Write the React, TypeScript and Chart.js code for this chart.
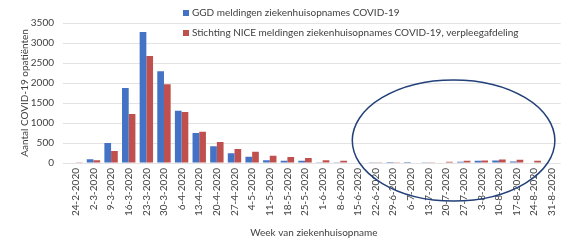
import React, { useEffect, useRef } from "react";
import { Chart, registerables } from "chart.js";

Chart.register(...registerables);

const weeks = [
  "24-2-2020", "2-3-2020", "9-3-2020", "16-3-2020", "23-3-2020", "30-3-2020", "6-4-2020",
  "13-4-2020", "20-4-2020", "27-4-2020", "4-5-2020", "11-5-2020", "18-5-2020", "25-5-2020",
  "1-6-2020", "8-6-2020", "15-6-2020", "22-6-2020", "29-6-2020", "6-7-2020", "13-7-2020",
  "20-7-2020", "27-7-2020", "3-8-2020", "10-8-2020", "17-8-2020", "24-8-2020", "31-8-2020",
];

const ggdValues = [
  15, 92, 500, 1875, 3275, 2292, 1308, 750, 417, 242, 158, 67, 58, 58,
  17, 17, 10, 5, 3, 3, 5, 10, 30, 55, 65, 35, 15, 0,
];

const niceValues = [
  5, 67, 300, 1225, 2675, 1967, 1275, 783, 525, 350, 283, 183, 150, 125,
  67, 58, 10, 20, 20, 15, 20, 30, 55, 65, 90, 80, 55, 0,
];

const seriesLabels = [
  "GGD meldingen ziekenhuisopnames COVID-19",
  "Stichting NICE meldingen ziekenhuisopnames COVID-19, verpleegafdeling",
];

const yTicks = [0, 500, 1000, 1500, 2000, 2500, 3000, 3500];

// highlighted region (in category index / value units)
const highlightFromIndex = 15.68;
const highlightToIndex = 27.17;
const highlightFromValue = -950;
const highlightToValue = 2075;

const BLUE = "#4472C4";
const RED = "#C0504D";
const FONT = "Lato, 'Open Sans', sans-serif";

const legendPlugin = {
  id: "customLegend",
  afterDraw(chart: any) {
    const ctx = chart.ctx;
    const colors = [BLUE, RED];
    ctx.save();
    ctx.font = `10px ${FONT}`;
    ctx.textBaseline = "middle";
    ctx.textAlign = "left";
    seriesLabels.forEach((label, i) => {
      const y = 13 + i * 20;
      ctx.fillStyle = colors[i];
      ctx.fillRect(183, y - 3, 6, 6);
      ctx.fillStyle = "#404040";
      ctx.fillText(label, 192, y);
    });
    ctx.restore();
  },
};

const ellipsePlugin = {
  id: "highlightEllipse",
  afterDraw(chart: any) {
    const xs = chart.scales.x;
    const ys = chart.scales.y;
    const x1 = xs.getPixelForValue(highlightFromIndex);
    const x2 = xs.getPixelForValue(highlightToIndex);
    const y1 = ys.getPixelForValue(highlightToValue);
    const y2 = ys.getPixelForValue(highlightFromValue);
    const ctx = chart.ctx;
    ctx.save();
    ctx.beginPath();
    ctx.ellipse((x1 + x2) / 2, (y1 + y2) / 2, (x2 - x1) / 2, (y2 - y1) / 2, 0, 0, Math.PI * 2);
    ctx.strokeStyle = "#22407A";
    ctx.lineWidth = 1.5;
    ctx.stroke();
    ctx.restore();
  },
};

export default function App() {
  const canvasRef = useRef<HTMLCanvasElement | null>(null);

  useEffect(() => {
    if (!canvasRef.current) return;
    const chart = new Chart(canvasRef.current, {
      type: "bar",
      data: {
        labels: weeks,
        datasets: [
          {
            label: seriesLabels[0],
            data: ggdValues,
            backgroundColor: BLUE,
            categoryPercentage: 0.76,
            barPercentage: 1,
          },
          {
            label: seriesLabels[1],
            data: niceValues,
            backgroundColor: RED,
            categoryPercentage: 0.76,
            barPercentage: 1,
          },
        ],
      },
      options: {
        animation: false,
        responsive: true,
        maintainAspectRatio: false,
        layout: { padding: { left: 15, right: 7, top: 23, bottom: 0 } },
        plugins: {
          legend: { display: false },
          tooltip: { enabled: false },
        },
        scales: {
          x: {
            grid: { display: false, drawTicks: false },
            border: { display: false },
            ticks: {
              autoSkip: false,
              minRotation: 90,
              maxRotation: 90,
              padding: 5,
              color: "#404040",
              font: { family: FONT, size: 10 },
            },
            title: {
              display: true,
              text: "Week van ziekenhuisopname",
              color: "#404040",
              font: { family: FONT, size: 10 },
              padding: { top: 0, bottom: 2 },
            },
            afterFit: (s: any) => {
              s.height = 78;
            },
          },
          y: {
            min: 0,
            max: 3500,
            afterBuildTicks: (s: any) => {
              s.ticks = yTicks.map((v) => ({ value: v }));
            },
            grid: { color: "#E3E3E3", tickLength: 4, drawTicks: true },
            border: { display: false },
            ticks: {
              padding: 9,
              color: "#404040",
              font: { family: FONT, size: 10 },
              callback: (v: any) => String(v),
            },
            title: {
              display: true,
              text: "Aantal COVID-19 opatiënten",
              color: "#404040",
              font: { family: FONT, size: 10 },
              padding: { top: 4, bottom: 4 },
            },
            afterFit: (s: any) => {
              s.width = 52;
            },
          },
        },
      },
      plugins: [legendPlugin, ellipsePlugin],
    });
    return () => chart.destroy();
  }, []);

  return (
    <div style={{ position: "fixed", left: 0, top: 0, width: 569, height: 241, background: "#fff" }}>
      <canvas ref={canvasRef} />
    </div>
  );
}
